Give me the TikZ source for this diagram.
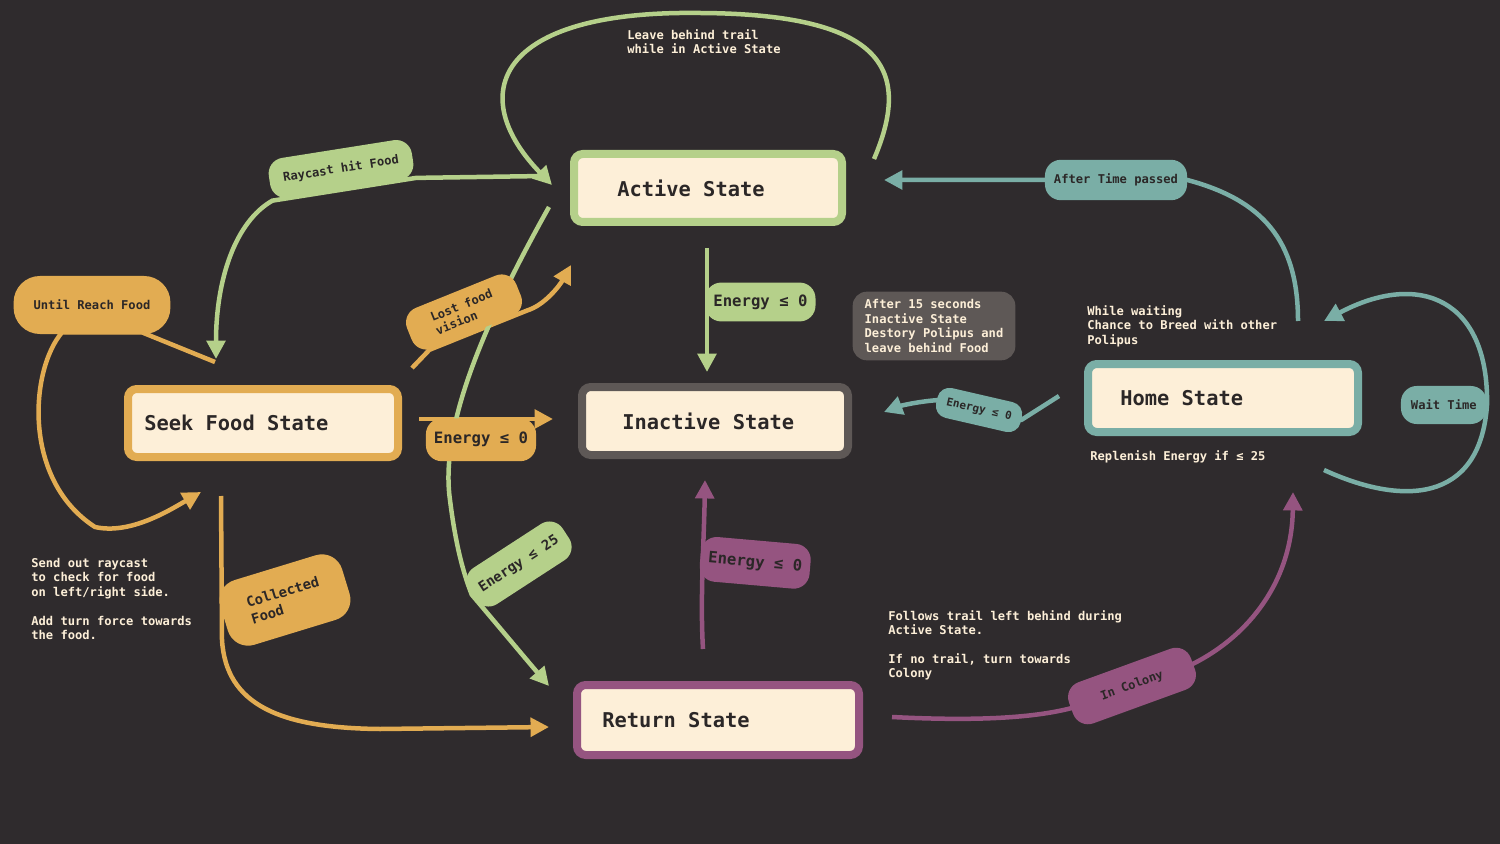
\documentclass[tikz,border=0pt]{standalone}
\usepackage{fontspec}
\usetikzlibrary{positioning,arrows.meta}
\newfontfamily\dmono{DejaVu Sans Mono}
\definecolor{bgc}{HTML}{2F2B2D}
\definecolor{grn}{HTML}{B5D08A}
\definecolor{org}{HTML}{E2AC52}
\definecolor{tea}{HTML}{7AAEA6}
\definecolor{pur}{HTML}{955480}
\definecolor{gry}{HTML}{5E5856}
\definecolor{crm}{HTML}{FDEFD8}
\definecolor{ink}{HTML}{2B2727}
\newcommand{\pxu}{0.02cm}
\newcommand{\sfnt}{\dmono\bfseries\fontsize{6.9}{8.2}\selectfont}
\newcommand{\xfnt}{\dmono\bfseries\fontsize{6.3}{7.5}\selectfont}
\newcommand{\mfnt}{\dmono\bfseries\fontsize{7.9}{9.6}\selectfont}
\newcommand{\bfnt}{\dmono\bfseries\fontsize{8.9}{10.5}\selectfont}
\newcommand{\tfnt}{\dmono\bfseries\fontsize{11.6}{13.5}\selectfont}
\pgfdeclarelayer{bg}
\pgfdeclarelayer{edges}
\pgfsetlayers{bg,edges,main}
\tikzset{statebox/.style={draw=#1,fill=crm,line width=8*\pxu,rounded corners=5pt,minimum height=68*\pxu},
	 stitle/.style={text=ink,font=\tfnt,inner sep=0pt,anchor=west},
	 conn/.style={draw=#1,line width=4.5*\pxu,-{Triangle[length=10.5pt,width=10.5pt]}},
	 blob/.style={fill=#1,text=ink,rounded corners=9pt,inner xsep=12*\pxu,inner ysep=14*\pxu,font=\sfnt},
	 bigtxt/.style={font=\bfnt,inner xsep=8*\pxu,inner ysep=12*\pxu},
	 midtxt/.style={font=\mfnt},
	 note/.style={text=crm,anchor=north west,inner sep=0pt,align=left,font=\sfnt}
	 }

\begin{document}
\begin{tikzpicture}[x=\pxu,y=-\pxu]
	\useasboundingbox (0,0) rectangle (1500,844);
	\begin{pgfonlayer}{bg}
	\fill[bgc] (0,0) rectangle (1500,844);
	\end{pgfonlayer}
	% states
	\node[statebox=grn, minimum width=268*\pxu] (active) at (708,188) {};
	\node[stitle] (active-t) at ([xshift=47*\pxu]active.west) {Active State};
	\node[statebox=org, minimum width=270*\pxu] (seek) at (263,423) {};
	\node[stitle] (seek-t) at ([xshift=20*\pxu]seek.west) {Seek Food State};
	\node[statebox=gry, minimum width=266*\pxu] (inact) at (715,421) {};
	\node[stitle] (inact-t) at ([xshift=44*\pxu]inact.west) {Inactive State};
	\node[statebox=tea, minimum width=270*\pxu] (home) at (1223,398) {};
	\node[stitle] (home-t) at ([xshift=36*\pxu]home.west) {Home State};
	\node[statebox=pur, minimum width=282*\pxu, minimum height=70*\pxu] (ret) at (718,720) {};
	\node[stitle] (ret-t) at ([xshift=29*\pxu]ret.west) {Return State};
	% transition labels
	\node[blob=grn, rotate=9, inner xsep=14*\pxu] (raycast) at (341,169) {Raycast hit Food};
	\node[blob=org, inner xsep=20*\pxu, inner ysep=24*\pxu, rounded corners=15pt] (until) at (92,305) {Until Reach Food};
	\node[blob=org, rotate=22, align=left, inner xsep=26*\pxu, inner ysep=10*\pxu] (lost) at (464,312) {Lost food\\vision};
	\node[blob=grn, bigtxt, anchor=west] (e0act) at (705,302) {Energy ≤ 0};
	\node[blob=org, bigtxt, inner ysep=14*\pxu, anchor=north] (e0seek) at (481,418) {Energy ≤ 0};
	\node[blob=grn, midtxt, rotate=33, inner xsep=10*\pxu, inner ysep=15*\pxu] (e25) at (519,564) {Energy ≤ 25};
	\node[blob=org, midtxt, rotate=17, align=left, inner xsep=26*\pxu, inner ysep=20*\pxu, rounded corners=12pt] (collect) at (285,600) {Collected\\Food};
	\node[blob=pur, bigtxt, inner ysep=15*\pxu, rotate=-5, anchor=west] (e0ret) at (700,558) {Energy ≤ 0};
	\node[blob=pur, rotate=20, inner xsep=32*\pxu, inner ysep=16*\pxu] (colony) at (1132,686) {In Colony};
	\node[blob=tea, rotate=-13, font=\xfnt, inner xsep=10*\pxu, inner ysep=10*\pxu, rounded corners=7pt] (e0home) at (979,410) {Energy ≤ 0};
	\node[blob=tea, inner xsep=9*\pxu] (aftert) at (1116,180) {After Time passed};
	\node[blob=tea, inner xsep=10*\pxu, anchor=east] (waitt) at (1487,405) {Wait Time};
	% notes
	\node[note] (trailnote) at (627,29) {Leave behind trail\\while in Active State};
	\node[note, fill=gry, rounded corners=8pt, inner xsep=12*\pxu, inner ysep=8*\pxu, anchor=center] (inactnote) at (934,326) {After 15 seconds\\Inactive State\\Destory Polipus and\\leave behind Food};
	\node[note] (breednote) at (1087,305) {While waiting\\Chance to Breed with other\\Polipus};
	\node[note] (replnote) at (1090,450) {Replenish Energy if ≤ 25};
	\node[note] (raynote) at (31,558) {Send out raycast\\to check for food\\on left/right side.\\[8.2pt]Add turn force towards\\the food.};
	\node[note] (follownote) at (888,610) {Follows trail left behind during\\Active State.\\[8.2pt]If no trail, turn towards\\Colony};
	\begin{pgfonlayer}{edges}
	\draw[conn=grn] ([shift={(28,9)}]active.north east) .. controls (912,70) and (885,14) .. (700,13) .. controls (495,10) and (465,95) .. ([shift={(-18,-3)}]active.west); % trail loop
	\draw[conn=grn] ([shift={(-26,-12)}]active.west) -- (raycast.south east) -- (raycast.south west) .. controls (235,222) and (216,280) .. ([shift={(-47,-26)}]seek.north);
	\draw[conn=grn] ([shift={(-1,22)}]active.south) -- ++(0,124);
	\draw[conn=org] ([shift={(-48,-23)}]seek.north) -- ([shift={(50,-2)}]until.south) -- ([shift={(-30,-2)}]until.south) .. controls (30,370) and (22,480) .. (95,527) .. controls (130,535) and (170,510) .. ([shift={(77,31)}]seek.south west);
	\draw[conn=org] ([shift={(17,-4)}]seek.east) -- ([shift={(-25,-2)}]inact.west);
	\draw[conn=org] ([shift={(10,-17)}]seek.north east) -- ([shift={(12,-5)}]lost.south west) -- (lost.south east) .. controls (545,305) and (560,285) .. ([shift={(1,39)}]active.south west);
	\draw[conn=grn] ([shift={(-21,-19)}]active.south west) .. controls (480,330) and (440,430) .. (450,500) .. controls (455,540) and (462,570) .. (e25.west) .. controls (500,628) and (525,658) .. ([shift={(-24,5)}]ret.north west);
	\draw[conn=org] ([shift={(-42,35)}]seek.south) -- (222,640) .. controls (226,705) and (280,728) .. (380,729) -- ([shift={(-24,7)}]ret.west);
	\draw[conn=pur] ([shift={(-15,-32)}]ret.north) .. controls (700,600) and (704,540) .. ([shift={(-10,21)}]inact.south);
	\draw[conn=pur] ([shift={(29,-3)}]ret.east) .. controls (990,722) and (1040,716) .. (colony.west) -- (colony.east) .. controls (1250,635) and (1292,580) .. ([shift={(70,56)}]home.south);
	\draw[conn=tea] ([shift={(-25,-2)}]home.west) -- (e0home.east) -- (e0home.west) .. controls (915,402) and (900,406) .. ([shift={(32,-9)}]inact.east);
	\draw[conn=tea] ([shift={(75,-39)}]home.north) .. controls (1298,240) and (1262,200) .. (aftert.east) -- ([shift={(38,-8)}]active.east);
	\draw[conn=tea] ([shift={(-38,34)}]home.south east) .. controls (1400,505) and (1480,505) .. (waitt.east) .. controls (1489,300) and (1420,270) .. ([shift={(-38,-39)}]home.north east); % wait loop
	\end{pgfonlayer}
\end{tikzpicture}
\end{document}
